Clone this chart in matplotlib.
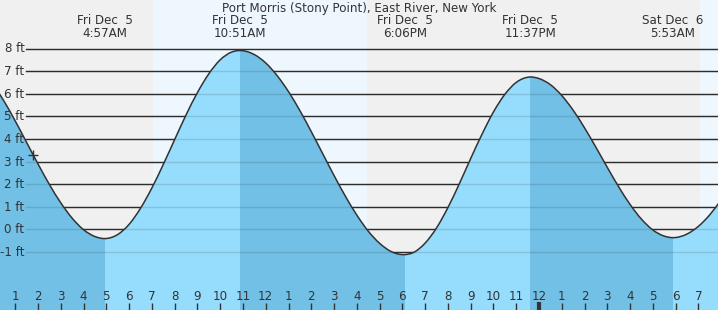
import matplotlib
matplotlib.use("Agg")
import matplotlib.pyplot as plt
import numpy as np
from matplotlib.path import Path
from matplotlib.patches import PathPatch, Rectangle

# tide heights (ft), hours since midnight Fri Dec 5
tide_times = [0, 0.5, 1, 1.5, 2, 2.5, 3, 3.5, 4, 4.5, 4.95,
              5.5, 6, 6.5, 7, 7.5, 8, 8.5, 9, 9.5, 10, 10.5, 10.85,
              11.5, 12, 12.5, 13, 13.5, 14, 14.5, 15, 15.5, 16, 16.5, 17, 17.5, 18.1,
              18.5, 19, 19.5, 20, 20.5, 21, 21.5, 22, 22.5, 23, 23.3, 23.617,
              24, 24.5, 25, 25.5, 26, 26.5, 27, 27.5, 28, 28.5, 29, 29.5, 29.883,
              30.5, 31, 31.5, 32]
tide_heights = [6.47, 5.68, 4.79, 3.84, 2.89, 1.98, 1.17, 0.49, -0.02, -0.32, -0.41,
                -0.23, 0.22, 0.93, 1.83, 2.87, 3.97, 5.06, 6.05, 6.88, 7.50, 7.84, 7.91,
                7.73, 7.36, 6.80, 6.09, 5.25, 4.32, 3.35, 2.38, 1.46, 0.63, -0.08, -0.62, -0.98, -1.12,
                -1.02, -0.61, 0.06, 0.96, 2.01, 3.13, 4.21, 5.19, 5.97, 6.50, 6.67, 6.74,
                6.67, 6.40, 5.92, 5.27, 4.49, 3.63, 2.74, 1.88, 1.10, 0.45, -0.03, -0.30, -0.37,
                -0.21, 0.13, 0.64, 1.30]

# high / low events
event_times = [4.95, 10.85, 18.1, 23.617, 29.883]
event_days = ["Fri Dec  5", "Fri Dec  5", "Fri Dec  5", "Fri Dec  5", "Sat Dec  6"]
event_clock = ["4:57AM", "10:51AM", "6:06PM", "11:37PM", "5:53AM"]

sunrise = [7.05, 31.07]
sunset = [16.45]

y_ticks = [-1, 0, 1, 2, 3, 4, 5, 6, 7, 8]
hour_ticks = list(range(1, 32))
hour_labels = [str((h - 1) % 12 + 1) for h in hour_ticks]

now_t, now_h = 1.78, 3.30

title = "Port Morris (Stony Point), East River, New York"

night = "#f0f0f0"
day = "#eef7fe"
rising = "#96dcfc"
falling = "#72c0e6"
ink = "#333333"
fs = 8.6

W, H = 718, 310
px_ft = 22.6
xmin, xmax = 7.5 / 22.77, (W + 7.5) / 22.77
ymin, ymax = (229.3 - H) / px_ft, 229.3 / px_ft

fig = plt.figure(figsize=(W / 100, H / 100), dpi=100)
ax = fig.add_axes([0, 0, 1, 1])
ax.set_xlim(xmin, xmax)
ax.set_ylim(ymin, ymax)
ax.axis("off")

# night / day background
ax.axvspan(xmin, sunrise[0], color=night, lw=0, zorder=0)
ax.axvspan(sunrise[0], sunset[0], color=day, lw=0, zorder=0)
ax.axvspan(sunset[0], sunrise[1], color=night, lw=0, zorder=0)
ax.axvspan(sunrise[1], xmax, color=day, lw=0, zorder=0)

for y in y_ticks:
    ax.axhline(y, xmin=26 / W, xmax=1, color=ink, lw=1, zorder=1)
    ax.text(24.5 / W, y - 4 / px_ft, f"{y} ft", transform=ax.get_yaxis_transform(),
            ha="right", va="baseline", fontsize=fs, color=ink, zorder=5)

# smooth curve through the readings (cubic bezier segments)
t = np.array(tide_times, float)
h = np.array(tide_heights, float)
slope = np.gradient(h, t)
verts = [(t[0], h[0])]
codes = [Path.MOVETO]
for i in range(len(t) - 1):
    dt = t[i + 1] - t[i]
    verts += [(t[i] + dt / 3, h[i] + slope[i] * dt / 3),
              (t[i + 1] - dt / 3, h[i + 1] - slope[i + 1] * dt / 3),
              (t[i + 1], h[i + 1])]
    codes += [Path.CURVE4] * 3
line_path = Path(verts, codes)
fill_path = Path(verts + [(t[-1], ymin - 1), (t[0], ymin - 1), (t[0], h[0])],
                 codes + [Path.LINETO, Path.LINETO, Path.CLOSEPOLY])

ax.add_patch(PathPatch(fill_path, facecolor=falling, lw=0, zorder=2))
bounds = [xmin - 1] + event_times + [xmax + 1]
for i in range(1, len(bounds) - 1, 2):
    rp = PathPatch(fill_path, facecolor=rising, lw=0, zorder=2)
    ax.add_patch(rp)
    clip = Rectangle((bounds[i], ymin - 1), bounds[i + 1] - bounds[i], ymax - ymin + 2,
                     transform=ax.transData)
    rp.set_clip_path(clip)

# faint grid over the water
for y in y_ticks:
    ax.axhline(y, xmin=26 / W, xmax=1, color="black", alpha=0.12, lw=1, zorder=3)

ax.add_patch(PathPatch(line_path, facecolor="none", edgecolor=ink, lw=1.1, zorder=4))
ax.plot([now_t], [now_h], marker="+", ms=6.5, mew=1, color=ink, zorder=5)

# hour ticks along the bottom
xt = ax.get_xaxis_transform()
for hr, lab in zip(hour_ticks, hour_labels):
    ax.text(hr, 1 - 300 / H, lab, transform=xt, ha="center", va="baseline",
            fontsize=fs, color=ink, zorder=5)
    if hr == 24:
        ax.plot([hr, hr], [0, 1 - 302 / H], transform=xt, color=ink, lw=3,
                solid_capstyle="butt", zorder=5)
    else:
        ax.plot([hr, hr], [0, 1 - 303 / H], transform=xt, color=ink, lw=1,
                solid_capstyle="butt", zorder=5)

for et, d, c in zip(event_times, event_days, event_clock):
    ax.text(et, 1 - 24.3 / H, d, transform=xt, ha="center", va="baseline",
            fontsize=fs, color=ink)
    ax.text(et, 1 - 36.7 / H, c, transform=xt, ha="center", va="baseline",
            fontsize=fs, color=ink)

ax.text(0.5, 1 - 11.7 / H, title, transform=ax.transAxes, ha="center", va="baseline",
        fontsize=fs, color=ink)

fig.savefig("out.png", dpi=100)
